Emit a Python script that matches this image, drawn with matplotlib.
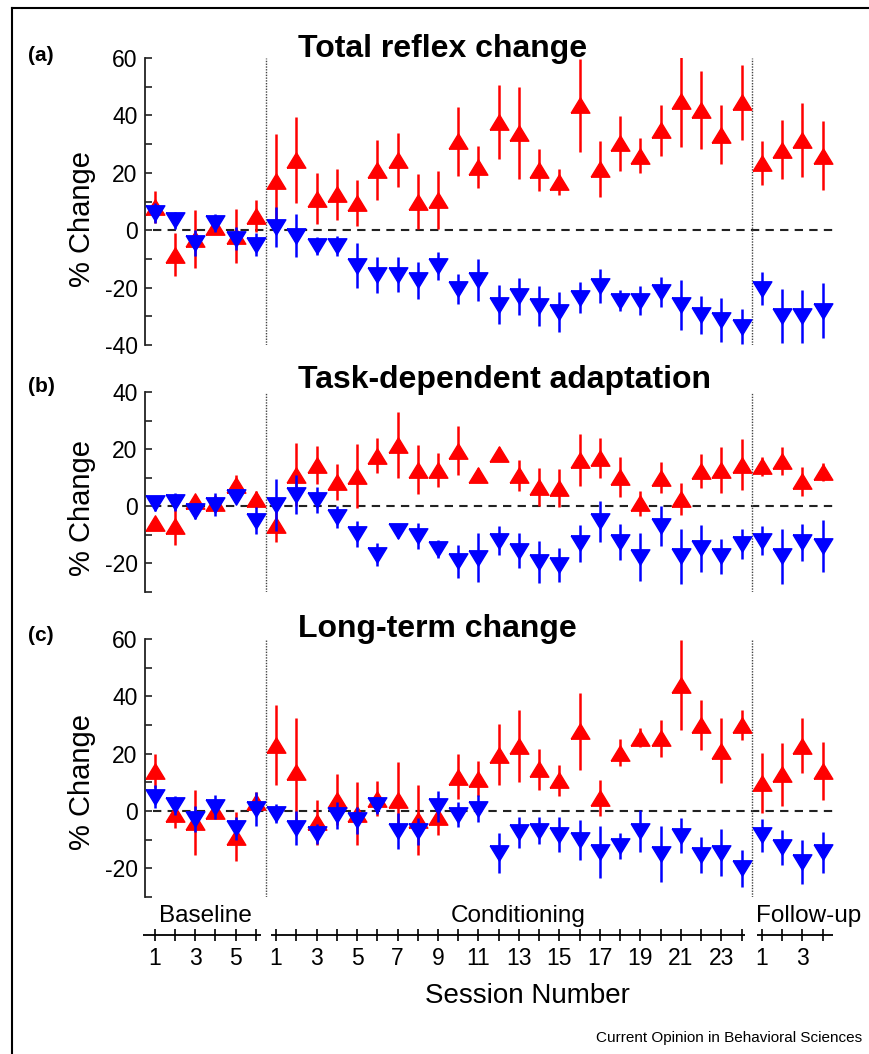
import numpy as np
import matplotlib
matplotlib.use('Agg')
import matplotlib.pyplot as plt
from matplotlib.lines import Line2D
from matplotlib.ticker import MultipleLocator

plt.rcParams['font.family'] = ['Liberation Sans', 'DejaVu Sans']
plt.rcParams['axes.unicode_minus'] = False

# sessions: 6 baseline, 24 conditioning, 4 follow-up
n_base, n_cond, n_follow = 6, 24, 4
session_labels = (['1', '', '3', '', '5', '']
                  + [str(i) if i % 2 else '' for i in range(1, 25)]
                  + ['1', '', '3', ''])
phase_names = ['Baseline', 'Conditioning', 'Follow-up']

# (a) total reflex change
red_a = [8, -8.5, -3, 1, -2, 5,
         17, 24.5, 11, 12.5, 9.5, 21, 24.5, 10, 10.5, 31, 22, 37.7, 34, 21,
         16.8, 43.5, 21.2, 30.3, 26, 34.8, 45, 41.8, 33.3, 44.5,
         23.5, 28, 31.5, 26]
red_a_err = [5.5, 7.5, 10, 1, 9.4, 5.5,
             16.5, 15, 9, 8.8, 8, 10.5, 9.4, 9.5, 10, 12, 7.4, 13, 16, 7.2,
             4.5, 16.2, 9.8, 9.5, 6.2, 8.9, 16, 13.5, 10.3, 13.2,
             7.7, 10.3, 12.8, 12]
blue_a = [6, 3.5, -4.5, 2.5, -3, -5,
          1, -2, -5.5, -5.5, -12.3, -15.7, -15.5, -17.5, -12.5, -20.5, -17.4, -26, -23, -26.5,
          -28.5, -23.5, -19.5, -24.5, -24.5, -21.5, -26, -29.5, -31.3, -33.6,
          -20.4, -30, -30, -28]
blue_a_err = [3.5, 3, 4.5, 3.3, 4, 4,
              7, 7.5, 3, 3.5, 7.7, 6.3, 6, 6.3, 4.8, 5.3, 7.2, 6.8, 6.5, 6.9,
              7, 5.5, 6, 3.8, 5.2, 5.1, 8.6, 6.6, 7.7, 6.1,
              5.7, 9.4, 9.3, 9.5]

# (b) task-dependent adaptation
red_b = [-6, -7, 2, 1, 7.5, 2.5,
         -6.5, 11, 14.5, 8.5, 10.5, 17.7, 21.5, 12.8, 12.8, 19.5, 11, 18.2, 10.8, 6.7,
         6.3, 16.2, 17, 10.3, 1, 10, 2.5, 12.4, 12.7, 14.6,
         14, 15.8, 8.8, 12]
red_b_err = [2, 6.5, 2, 2, 3.5, 3,
             6, 11, 6.6, 6.3, 11.2, 6.1, 11.6, 8.6, 6, 8.7, 2.5, 2.5, 5.4, 6.7,
             6.7, 9.1, 7, 7, 4.3, 5.5, 5.5, 6, 7.9, 8.9,
             3.4, 4.8, 5.1, 3]
blue_b = [1, 1.5, -1.5, 0.5, 3.3, -5,
          0.5, 4, 2.3, -3.8, -9.6, -17, -8.6, -10.3, -15, -19.2, -18, -12, -15.5, -19.5,
          -20.5, -13, -5.3, -12.5, -17.7, -7, -17.5, -14.7, -17.5, -13.3,
          -12, -17.5, -12.6, -14]
blue_b_err = [2.5, 3, 2.8, 4, 1.5, 4.7,
              9.2, 6.8, 4.5, 3.9, 4.5, 4, 2.5, 4.6, 3.2, 5.8, 8.5, 5, 6, 7.2,
              6, 6.4, 7.2, 6.4, 8.5, 7, 9.7, 8.3, 6.2, 5.2,
              5.1, 9.7, 6.4, 9.1]

# (c) long-term change
red_c = [14, -1, -4, 0, -9, 3,
         23, 13.5, -4, 4, -1, 4.3, 3.8, -3.2, -2, 12, 11.3, 19.7, 22.8, 14.5,
         10.7, 27.8, 4.4, 20.4, 25.5, 25.3, 44, 30, 21, 30,
         9.8, 12.8, 22.8, 14]
red_c_err = [6, 5, 11.2, 2.5, 8.6, 3.5,
             14, 19, 8, 8.8, 11, 6, 13.3, 12.3, 6.5, 7.9, 6, 10.8, 12.6, 7.3,
             5.3, 13.5, 6.3, 4.8, 3.3, 6.4, 15.6, 8.7, 11.4, 5.4,
             10.5, 11, 9.7, 10.1]
blue_c = [5, 2, -2.7, 1.5, -6, 0.8,
          -1, -6, -7.9, -1.5, -3.2, 2, -6.9, -7, 1.6, -1.3, 0.8, -14.7, -7.4, -6.9,
          -8.2, -10, -14.3, -12.2, -6.9, -15, -8.7, -15.3, -14.5, -20,
          -8.5, -12.7, -17.7, -14.4]
blue_c_err = [4, 3.3, 4.5, 4.2, 4, 6,
              3.3, 6, 3.5, 4.7, 4.7, 3, 6.3, 4.7, 5.5, 4.4, 4.7, 6.9, 5.4, 4.7,
              6.2, 7, 8.9, 4.7, 7.3, 9.8, 6.1, 6.2, 8.3, 6.4,
              5.8, 6.2, 7.7, 7.2]

W, H = 869, 1054
fig = plt.figure(figsize=(W / 100, H / 100), dpi=100)


def fx(px):
    return px / W


def fy(py):
    return 1 - py / H


x = np.arange(1, n_base + n_cond + n_follow + 1)
splits = [n_base + 0.5, n_base + n_cond + 0.5]
xlim = (0.5, 34.5)
left, right = 144.5, 832.7

up = [(-1, -0.82), (1, -0.82), (0, 0.82), (-1, -0.82)]
down = [(-1, 0.82), (1, 0.82), (0, -0.82), (-1, 0.82)]

panels = [
    ('(a)', 'Total reflex change', (-40, 60), [-40, -20, 0, 20, 40, 60], 58, 345, 57, 219,
     red_a, red_a_err, blue_a, blue_a_err),
    ('(b)', 'Task-dependent adaptation', (-30, 40), [-20, 0, 20, 40], 392, 592, 388, 508,
     red_b, red_b_err, blue_b, blue_b_err),
    ('(c)', 'Long-term change', (-30, 60), [-20, 0, 20, 40, 60], 639, 897, 637, 782,
     red_c, red_c_err, blue_c, blue_c_err),
]

for tag, title, ylim, yticks, top, bot, title_y, lab_y, r, re, b, be in panels:
    ax = fig.add_axes([fx(left), fy(bot), fx(right) - fx(left), (bot - top) / H])
    ax.set_xlim(xlim)
    ax.set_ylim(ylim)
    for s in ['top', 'right', 'bottom']:
        ax.spines[s].set_visible(False)
    ax.spines['left'].set_linewidth(1.3)
    ax.spines['left'].set_color('#222222')
    ax.set_xticks([])
    ax.set_yticks(yticks)
    ax.yaxis.set_minor_locator(MultipleLocator(10))
    ax.tick_params(axis='y', which='both', direction='in', length=5, width=1.2,
                   color='#222222', labelsize=16.5, pad=5)

    ax.hlines(0, 0.9, 34.5, colors='#222222', linestyles=(0, (4, 3)), lw=1.5, zorder=1)
    for sx in splits:
        ax.axvline(sx, color='#444444', ls=(0, (1, 1)), lw=1.0, zorder=1)

    ax.errorbar(x, r, yerr=re, fmt='none', ecolor='red', elinewidth=1.8, capsize=0, zorder=2)
    ax.plot(x, r, ls='none', marker=up, ms=13.5, color='red', mec='red', zorder=3)
    ax.errorbar(x, b, yerr=be, fmt='none', ecolor='blue', elinewidth=1.8, capsize=0, zorder=4)
    ax.plot(x, b, ls='none', marker=down, ms=13.5, color='blue', mec='blue', zorder=5)

    fig.text(fx(28), fy(title_y + 4), tag, fontsize=15, fontweight='bold', va='baseline')
    fig.text(fx(298), fy(title_y), title, fontsize=23, fontweight='bold', va='baseline')
    fig.text(fx(82), fy(lab_y), '% Change', rotation=90, fontsize=21, ha='center', va='center')

# session axis with broken line
axb = fig.add_axes([fx(left), fy(935), fx(right) - fx(left), 10 / H])
axb.set_xlim(xlim)
axb.set_ylim(0, 1)
for s in ['top', 'right', 'left', 'bottom']:
    axb.spines[s].set_visible(False)
axb.set_yticks([])
axb.set_xticks(x)
axb.set_xticklabels(session_labels)
axb.tick_params(axis='x', direction='inout', length=9, width=1.2, labelsize=16.5, pad=4)
for a, c in [(0.45, 6.25), (6.75, 30.15), (30.75, 34.5)]:
    axb.hlines(0, a, c, colors='black', lw=1.3, clip_on=False)

for name, px in zip(phase_names, [205, 518, 809]):
    fig.text(fx(px), fy(922), name, fontsize=17.5, ha='center', va='baseline')
fig.text(fx(527), fy(1003), 'Session Number', fontsize=20, ha='center', va='baseline')
fig.text(fx(862), fy(1042), 'Current Opinion in Behavioral Sciences', fontsize=11,
         ha='right', va='baseline')

# frame (left and top edges)
fig.add_artist(Line2D([fx(11.5), 1], [fy(8), fy(8)], transform=fig.transFigure,
                      color='black', lw=1.5))
fig.add_artist(Line2D([fx(11.5), fx(11.5)], [fy(8), 0], transform=fig.transFigure,
                      color='black', lw=1.5))

fig.savefig('out.png', dpi=100)
